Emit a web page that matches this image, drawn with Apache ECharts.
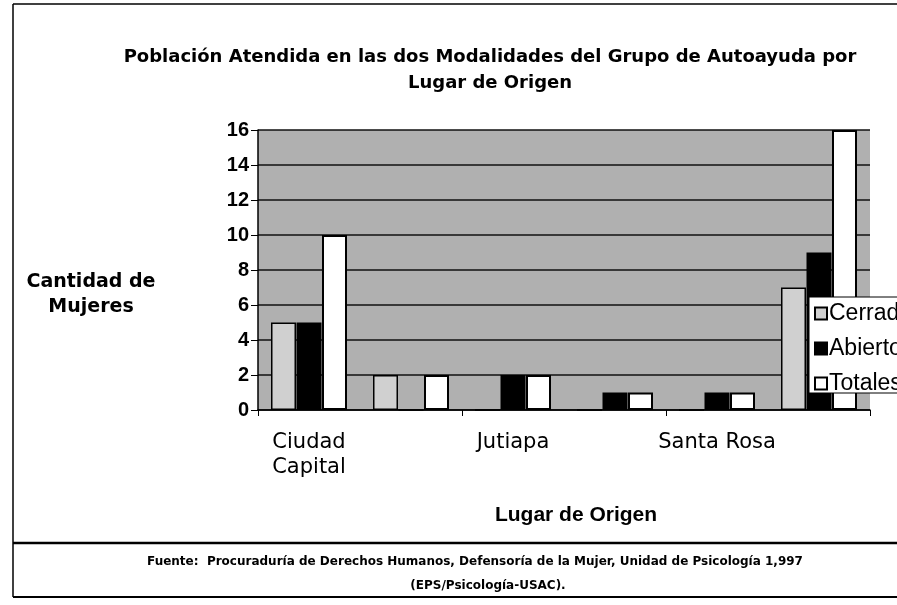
<!DOCTYPE html>
<html lang="es">
<head>
<meta charset="UTF-8">
<script src="https://cdn.jsdelivr.net/npm/echarts@6/dist/echarts.min.js"></script>
<title>Lugar de Origen</title>
<style>
  html, body { margin: 0; padding: 0; background: #fff; }
  #chart { width: 897px; height: 605px; }
</style>
</head>
<body>
<div id="chart"></div>
<script>
// categorías (las de posición par no llevan etiqueta en el original)
var lugares = ['Ciudad\nCapital', 'Escuintla', 'Jutiapa', 'Chiquimula', 'Santa Rosa', 'Total'];
var cerrado = [5, 2, 0, 0, 0, 7];
var abierto = [5, 0, 2, 1, 1, 9];
var totales = [10, 2, 2, 1, 1, 16];
var serieNombres = ['Cerrado', 'Abierto', 'Totales'];

var chart = echarts.init(document.getElementById('chart'));
var font = 'Liberation Sans, Arial, sans-serif';
var fontAncho = 'DejaVu Sans, Liberation Sans, sans-serif';

var option = {
  backgroundColor: '#fff',
  animation: false,
  title: {
    text: 'Población Atendida en las dos Modalidades del Grupo de Autoayuda por\nLugar de Origen',
    left: 485, top: 39, textAlign: 'center',
    textStyle: { fontFamily: fontAncho, fontSize: 18, fontWeight: 'bold', lineHeight: 26, color: '#000' }
  },
  grid: { left: 258, right: 27, top: 130, bottom: 195, show: true, backgroundColor: '#b0b0b0', borderWidth: 0 },
  legend: {
    orient: 'vertical', left: 809, top: 298,
    data: serieNombres,
    icon: 'rect',
    itemWidth: 12, itemHeight: 12, itemGap: 12,
    padding: [4, 5, 4, 5],
    textStyle: { fontFamily: font, fontSize: 23, color: '#000', padding: [0, 0, 0, -3] }
  },
  xAxis: {
    type: 'category',
    data: lugares,
    name: 'Lugar de Origen', nameLocation: 'middle', nameGap: 95,
    nameTextStyle: { fontFamily: font, fontSize: 21, fontWeight: 'bold', color: '#000', padding: [0, 0, 0, 24] },
    axisLine: { lineStyle: { color: '#000', width: 1.5 } },
    axisTick: { show: true, length: 6, lineStyle: { color: '#000' } },
    axisLabel: { interval: 1, margin: 20, fontFamily: fontAncho, fontSize: 21, color: '#000', lineHeight: 25, verticalAlign: 'top' }
  },
  yAxis: {
    type: 'value', min: 0, max: 16, interval: 2,
    name: 'Cantidad de\nMujeres', nameLocation: 'middle', nameGap: 167, nameRotate: 0,
    nameTextStyle: { fontFamily: fontAncho, fontSize: 19, fontWeight: 'bold', color: '#000', lineHeight: 25, align: 'center', verticalAlign: 'top' },
    axisLine: { show: true, lineStyle: { color: '#000', width: 1.5 } },
    axisTick: { show: true, length: 7, lineStyle: { color: '#000' } },
    axisLabel: { margin: 9, fontFamily: font, fontSize: 20, fontWeight: 'bold', color: '#000' },
    splitLine: { lineStyle: { color: '#111', width: 1.5 } }
  },
  series: [
    { name: serieNombres[0], type: 'bar', data: cerrado, barWidth: 25, barGap: '2%',
      itemStyle: { color: '#d0d0d0', borderColor: '#000', borderWidth: 1.5 } },
    { name: serieNombres[1], type: 'bar', data: abierto, barWidth: 25,
      itemStyle: { color: '#000', borderColor: '#000', borderWidth: 1.5 } },
    { name: serieNombres[2], type: 'bar', data: totales, barWidth: 25,
      itemStyle: { color: '#fff', borderColor: '#000', borderWidth: 2 } }
  ],
  graphic: [
    // caja de la leyenda, cortada por el borde derecho como en el original
    { type: 'rect', z: 3, shape: { x: 809, y: 297, width: 120, height: 96 },
      style: { fill: '#fff', stroke: '#000', lineWidth: 1 } },
    { type: 'line', shape: { x1: 13, y1: 4, x2: 897, y2: 4 }, style: { stroke: '#000', lineWidth: 1.5 } },
    { type: 'line', shape: { x1: 13, y1: 4, x2: 13, y2: 597 }, style: { stroke: '#000', lineWidth: 1.5 } },
    { type: 'line', shape: { x1: 13, y1: 543, x2: 897, y2: 543 }, style: { stroke: '#000', lineWidth: 2.5 } },
    { type: 'line', shape: { x1: 13, y1: 597, x2: 897, y2: 597 }, style: { stroke: '#000', lineWidth: 2 } },
    { type: 'text', x: 475, y: 556,
      style: { text: 'Fuente:  Procuraduría de Derechos Humanos, Defensoría de la Mujer, Unidad de Psicología 1,997',
               font: 'bold 12px ' + fontAncho, fill: '#000', textAlign: 'center' } },
    { type: 'text', x: 488, y: 580,
      style: { text: '(EPS/Psicología-USAC).', font: 'bold 12px ' + fontAncho, fill: '#000', textAlign: 'center' } }
  ]
};
chart.setOption(option);
</script>
</body>
</html>
